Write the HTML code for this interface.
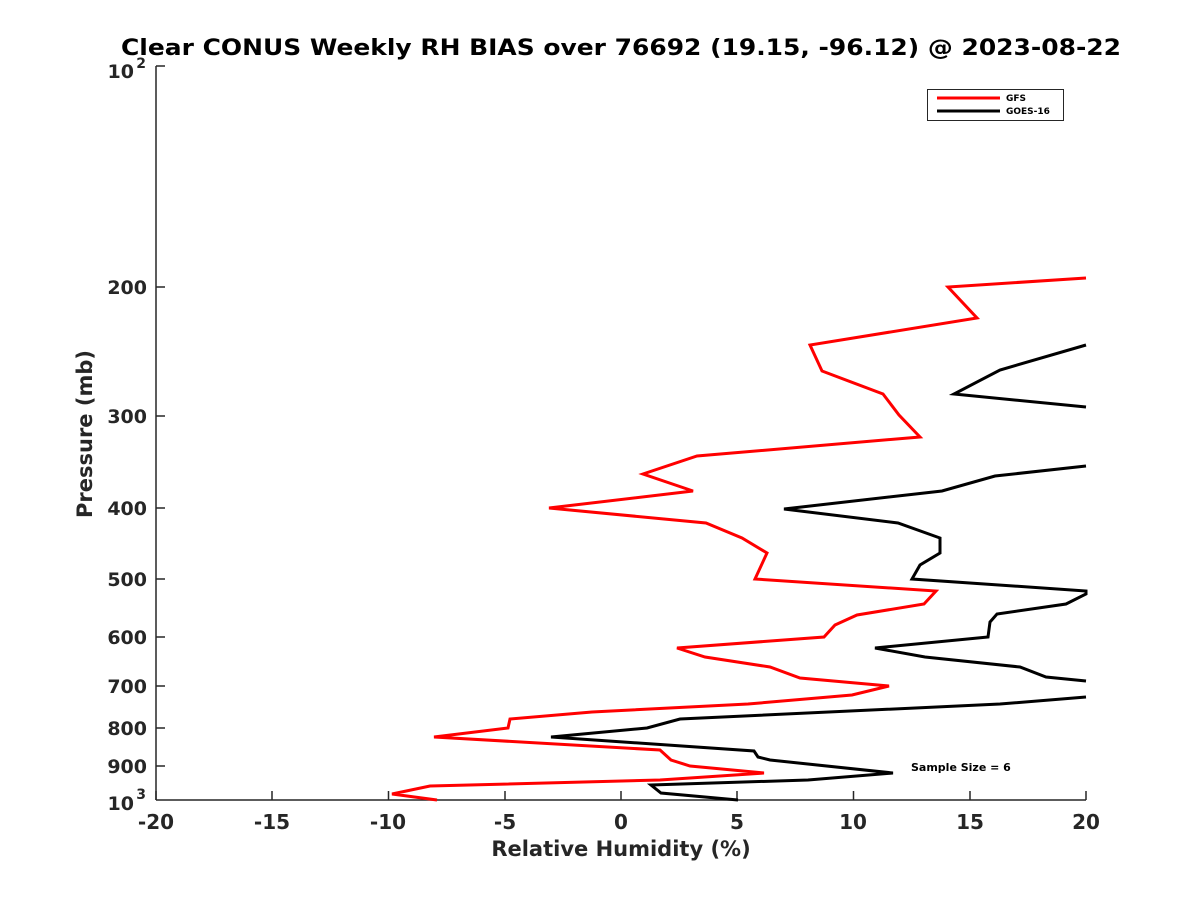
<!DOCTYPE html>
<html><head><style>body{margin:0;background:#fff}</style></head><body>
<svg width="1200" height="900" xmlns="http://www.w3.org/2000/svg" font-family="DejaVu Sans, sans-serif" font-weight="bold">
<rect width="1200" height="900" fill="#fff"/>
<text x="621" y="55" font-size="22" text-anchor="middle" fill="#000" textLength="1000" lengthAdjust="spacingAndGlyphs">Clear CONUS Weekly RH BIAS over 76692 (19.15, -96.12) @ 2023-08-22</text>
<g stroke="#262626" stroke-width="1.5" fill="none">
<line x1="156" y1="66" x2="156" y2="800"/>
<line x1="156" y1="800" x2="1086" y2="800"/>
<path d="M156 66h9M156 287h9M156 416h9M156 508h9M156 579h9M156 637h9M156 686h9M156 728h9M156 766h9
M156 800v-9M272 800v-9M388.5 800v-9M505 800v-9M621 800v-9M737 800v-9M853.5 800v-9M970 800v-9M1086 800v-9"/>
</g>
<g font-size="19" fill="#262626" text-anchor="end">
<text x="147" y="294">200</text><text x="147" y="423">300</text><text x="147" y="515">400</text>
<text x="147" y="586">500</text><text x="147" y="644">600</text><text x="147" y="693">700</text>
<text x="147" y="735">800</text><text x="147" y="773">900</text>
<text x="134" y="78">10</text><text x="146" y="68" font-size="14">2</text>
<text x="134" y="810">10</text><text x="146" y="799" font-size="14">3</text>
</g>
<g font-size="20" fill="#262626" text-anchor="middle">
<text x="156" y="829">-20</text><text x="272" y="829">-15</text><text x="388" y="829">-10</text>
<text x="505" y="829">-5</text><text x="621" y="829">0</text><text x="737" y="829">5</text>
<text x="853" y="829">10</text><text x="970" y="829">15</text><text x="1086" y="829">20</text>
<text x="621" y="856" font-size="21">Relative Humidity (%)</text>
</g>
<text transform="translate(92,434) rotate(-90)" font-size="21" fill="#262626" text-anchor="middle">Pressure (mb)</text>
<polyline fill="none" stroke="#f00" stroke-width="3" points="1086,278 948,287 977,318 810,345 822,371 883,394 899,415 920,437 697,456 643,474 693,491 549,508 706,523 742,538 767,553 755,579 936,591 924,604 857,615 835,625 824,637 677,648 705,657 770,667 800,678 889,686 852,695 748,704 592,712 510,719 508,728 434,737 660,750 671,760 690,766 764,773 660,780 430,786 392,794 437,800"/>
<polyline fill="none" stroke="#000" stroke-width="3" points="1086,345 1000,370 954,394 1086,407"/>
<polyline fill="none" stroke="#000" stroke-width="3" points="1086,466 995,476 942,491 784,509 898,523 940,538 940,553 920,565 912,579 1086,591 1086,594 1066,604 997,614 990,622 988,637 875,648 925,657 1020,667 1046,677 1086,681"/>
<polyline fill="none" stroke="#000" stroke-width="3" points="1086,697 1000,704 680,719 647,728 551,737 754,751 758,757 770,760 893,773 808,780 651,785 661,793 738,800"/>
<text x="911" y="771" font-size="11" fill="#000">Sample Size = 6</text>
<rect x="927.5" y="89.5" width="136" height="31" fill="#fff" stroke="#262626" stroke-width="1"/>
<line x1="937" y1="98" x2="1000" y2="98" stroke="#f00" stroke-width="3"/>
<line x1="937" y1="111" x2="1000" y2="111" stroke="#000" stroke-width="3"/>
<g font-size="9" fill="#000"><text x="1006" y="101">GFS</text><text x="1006" y="114">GOES-16</text></g>
</svg>
</body></html>
